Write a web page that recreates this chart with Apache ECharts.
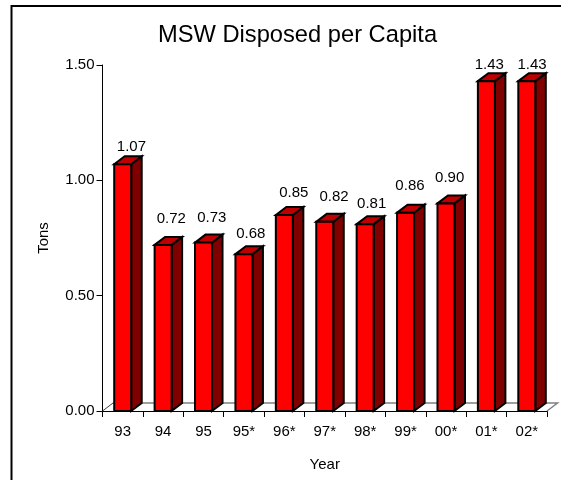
<!DOCTYPE html>
<html>
<head>
<meta charset="utf-8">
<style>html,body{margin:0;padding:0;background:#fff}#c{width:561px;height:480px}</style>
<script src="https://cdn.jsdelivr.net/npm/echarts@6/dist/echarts.min.js"></script>
</head>
<body>
<div id="c"></div>
<script>
const years = ['93','94','95','95*','96*','97*','98*','99*','00*','01*','02*'];
const tons = [1.07,0.72,0.73,0.68,0.85,0.82,0.81,0.86,0.90,1.43,1.43];
const yTicks = {min:0,max:1.5,step:0.5};
// the source chart's value labels are hand-placed: per-bar nudges, in pixels
const labelGaps = [9.5,18.5,16.5,12,14.5,16.5,12,19,18,8.5,8.5];
const labelShifts = [8.7,8.2,8.2,6.8,9.4,9.3,6.5,4.4,3.7,2.9,5.2];

const FONT = 'Liberation Sans';
const FS = 15;
const DX = 10.5, DY = 8, BAR_W = 17;
const chart = echarts.init(document.getElementById('c'), null, {renderer:'canvas'});

function renderBar(params, api){
  const idx = api.value(0), val = api.value(1);
  const base = api.coord([idx,0]), top = api.coord([idx,val]);
  const x0 = base[0]-BAR_W/2, x1 = base[0]+BAR_W/2, yb = base[1], yt = top[1];
  const line = {stroke:'#000',lineWidth:2,lineJoin:'miter'};
  return {type:'group',children:[
    {type:'polygon',shape:{points:[[x1,yb],[x1+DX,yb-DY],[x1+DX,yt-DY],[x1,yt]]},style:Object.assign({fill:'#800000'},line)},
    {type:'polygon',shape:{points:[[x0,yt],[x0+DX,yt-DY],[x1+DX,yt-DY],[x1,yt]]},style:Object.assign({fill:'#c00000'},line)},
    {type:'rect',shape:{x:x0,y:yt,width:BAR_W,height:yb-yt},style:Object.assign({fill:'#ff0000'},line)},
    {type:'text',style:{x:base[0]+labelShifts[params.dataIndex],y:yt-DY-labelGaps[params.dataIndex],text:val.toFixed(2),
      fill:'#000',font:FS+'px "'+FONT+'"',align:'center',verticalAlign:'middle'}}
  ]};
}
function renderFloor(params, api){
  const half = api.size([1,0])[0]/2;
  const a = api.coord([0,0]), b = api.coord([years.length-1,0]);
  const l = a[0]-half, r = b[0]+half, y = a[1];
  return {type:'group',children:[
    {type:'polyline',shape:{points:[[r,y],[r+DX,y-DY],[l+DX,y-DY]]},style:{stroke:'#808080',lineWidth:1.5,fill:null}},
    {type:'line',shape:{x1:l,y1:y,x2:l+DX,y2:y-DY},style:{stroke:'#404040',lineWidth:1}}
  ]};
}

chart.setOption({
  animation:false,
  backgroundColor:'#fff',
  textStyle:{fontFamily:FONT,color:'#000'},
  title:{text:'MSW Disposed per Capita',left:153,top:18,
    textStyle:{fontFamily:FONT,fontSize:23.7,fontWeight:'normal',color:'#000'}},
  graphic:[{type:'polyline',silent:true,shape:{points:[[11.5,480],[11.5,6],[561,6]]},style:{stroke:'#000',lineWidth:2,fill:null}}],
  grid:{left:102.5,top:65,width:444.5,height:346,containLabel:false,outerBoundsMode:'none'},
  xAxis:{type:'category',data:years,name:'Year',nameLocation:'middle',nameGap:46,
    nameTextStyle:{fontFamily:FONT,fontSize:FS,color:'#000'},
    axisLine:{lineStyle:{color:'#000',width:1}},
    axisTick:{show:true,alignWithLabel:false,length:6,lineStyle:{color:'#000'}},
    axisLabel:{fontFamily:FONT,fontSize:FS,color:'#000',margin:13,interval:0},
    splitLine:{show:false}},
  yAxis:{type:'value',min:yTicks.min,max:yTicks.max,interval:yTicks.step,name:'Tons',nameLocation:'middle',nameGap:51,
    nameRotate:90,nameTextStyle:{fontFamily:FONT,fontSize:FS,color:'#000'},
    axisLine:{show:true,lineStyle:{color:'#000',width:1}},
    axisTick:{show:true,length:6,lineStyle:{color:'#000'}},
    axisLabel:{fontFamily:FONT,fontSize:FS,color:'#000',margin:8,formatter:v=>v.toFixed(2)},
    splitLine:{show:false}},
  series:[
    {type:'custom',name:'floor',clip:false,silent:true,z:1,renderItem:renderFloor,data:[[0,0]],encode:{x:0,y:1}},
    {type:'custom',name:'Tons',clip:false,z:3,renderItem:renderBar,
      data:years.map((y,i)=>[i,tons[i]]),encode:{x:0,y:1}}
  ]
});
</script>
</body>
</html>
